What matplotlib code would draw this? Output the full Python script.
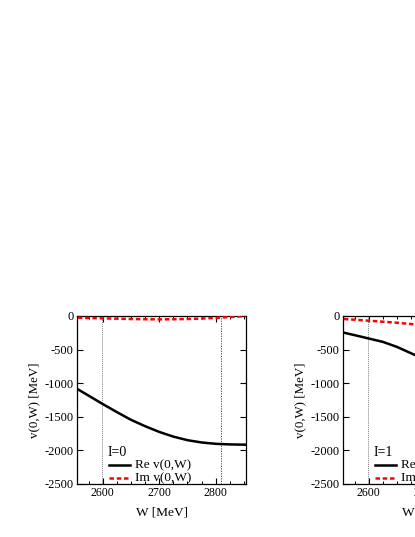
import numpy as np
import matplotlib.pyplot as plt
from matplotlib.ticker import MultipleLocator

plt.rcParams['font.family'] = ['Liberation Serif', 'DejaVu Serif']
plt.rcParams['axes.unicode_minus'] = False

# W [MeV], values
w0 = [2556, 2575, 2600, 2625, 2650, 2675, 2700, 2725, 2750, 2775, 2800, 2825, 2853]
re0 = [-1091, -1185, -1310, -1430, -1545, -1640, -1725, -1795, -1848, -1882, -1902, -1911, -1915]
im0 = [-25, -30, -35, -40, -45, -48, -50, -48, -45, -38, -28, -15, 0]

w1 = [2556, 2575, 2600, 2625, 2650, 2675, 2700, 2725]
re1 = [-248, -285, -335, -385, -460, -555, -650, -750]
im1 = [-45, -55, -70, -85, -100, -120, -140, -160]

# thresholds (dotted lines)
thr = [2598, 2809]

panels = [("I=0", w0, re0, im0), ("I=1", w1, re1, im1)]
lefts = [77.3, 343.3]

fig = plt.figure(figsize=(4.15, 5.37), dpi=100)

for (lab, w, re, im), left in zip(panels, lefts):
    ax = fig.add_axes([left / 415, 53 / 537, 168.4 / 415, 168 / 537])
    ax.axvline(thr[0], color='0.5', lw=0.7, ls=(0, (1, 1)), zorder=1)
    ax.axvline(thr[1], color='0.2', lw=0.6, ls=(0, (1.5, 1.5)), zorder=1)
    ax.plot(w, re, color='k', lw=1.8, zorder=3)
    ax.plot(w, im, color='red', lw=1.8, ls=(0, (1.8, 1.1)), zorder=3)
    ax.set_xlim(2555, 2853)
    ax.set_ylim(-2500, 0)
    ax.xaxis.set_major_locator(MultipleLocator(100))
    ax.xaxis.set_minor_locator(MultipleLocator(25))
    ax.yaxis.set_major_locator(MultipleLocator(500))
    ax.tick_params(which='both', direction='in', top=True, right=True, pad=2.5)
    ax.tick_params(axis='x', labelsize=8.6)
    ax.tick_params(axis='y', labelsize=9)
    ax.tick_params(which='major', length=4.5, width=0.8)
    ax.tick_params(which='minor', length=2.5, width=0.7)
    for s in ax.spines.values():
        s.set_linewidth(0.9)
    ax.set_xlabel('W [MeV]', fontsize=9.6, labelpad=5)
    ax.set_ylabel('v(0,W) [MeV]', fontsize=9.3, labelpad=3)

    # legend drawn by hand
    tr = ax.transAxes
    ax.text(0.178, 0.19, lab, transform=tr, fontsize=10, ha='left', va='center')
    ax.plot([0.19, 0.313], [0.113, 0.113], transform=tr, color='k', lw=1.8)
    ax.plot([0.19, 0.313], [0.037, 0.037], transform=tr, color='red', lw=1.8,
            ls=(0, (1.8, 1.1)))
    ax.text(0.343, 0.113, 'Re v(0,W)', transform=tr, fontsize=9.5, ha='left', va='center')
    ax.text(0.343, 0.037, 'Im v(0,W)', transform=tr, fontsize=9.5, ha='left', va='center')

fig.savefig('out.png', dpi=100)
